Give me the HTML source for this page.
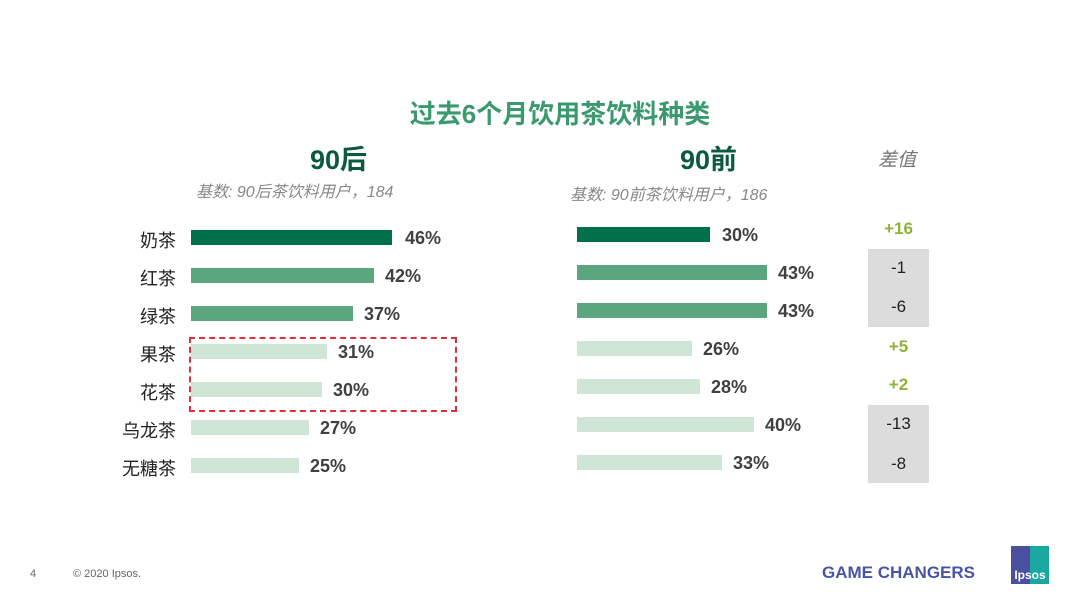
<!DOCTYPE html>
<html><head><meta charset="utf-8"><style>
body{margin:0;width:1080px;height:608px;background:#fff;position:relative;overflow:hidden;font-family:"Liberation Sans","Noto Sans CJK SC",sans-serif}
.a{position:absolute;white-space:nowrap}
.bar{position:absolute;height:15px}
.d{background:#00704a}.m{background:#5aa67e}.l{background:#cfe6d6}
.lab{position:absolute;width:80px;text-align:right;font-size:18px;color:#222;line-height:20px}
.v{position:absolute;font-size:18px;font-weight:bold;color:#404040;line-height:20px}
.df{position:absolute;width:61px;text-align:center;font-size:17px;line-height:20px;color:#222}
.g{color:#8db33a;font-weight:bold}
</style></head><body>
<div class="a" style="left:20px;width:1080px;top:94px;text-align:center;font-size:26px;font-weight:bold;color:#3a9a6e">过去6个月饮用茶饮料种类</div>
<div class="a" style="left:310px;top:138px;font-size:27px;font-weight:bold;color:#0b5a3c">90后</div>
<div class="a" style="left:680px;top:138px;font-size:27px;font-weight:bold;color:#0b5a3c">90前</div>
<div class="a" style="left:878px;top:145px;font-size:19px;font-style:italic;color:#777">差值</div>
<div class="a" style="left:196px;top:178px;font-size:16px;font-style:italic;color:#888">基数: 90后茶饮料用户，184</div>
<div class="a" style="left:570px;top:181px;font-size:16px;font-style:italic;color:#888">基数: 90前茶饮料用户，186</div>

<div class="lab" style="left:96px;top:231px">奶茶</div>
<div class="lab" style="left:96px;top:269px">红茶</div>
<div class="lab" style="left:96px;top:307px">绿茶</div>
<div class="lab" style="left:96px;top:345px">果茶</div>
<div class="lab" style="left:96px;top:383px">花茶</div>
<div class="lab" style="left:96px;top:421px">乌龙茶</div>
<div class="lab" style="left:96px;top:459px">无糖茶</div>

<div class="bar d" style="left:191px;top:230px;width:201px"></div><div class="v" style="left:405px;top:228px">46%</div>
<div class="bar m" style="left:191px;top:268px;width:183px"></div><div class="v" style="left:385px;top:266px">42%</div>
<div class="bar m" style="left:191px;top:306px;width:162px"></div><div class="v" style="left:364px;top:304px">37%</div>
<div class="bar l" style="left:191px;top:344px;width:136px"></div><div class="v" style="left:338px;top:342px">31%</div>
<div class="bar l" style="left:191px;top:382px;width:131px"></div><div class="v" style="left:333px;top:380px">30%</div>
<div class="bar l" style="left:191px;top:420px;width:118px"></div><div class="v" style="left:320px;top:418px">27%</div>
<div class="bar l" style="left:191px;top:458px;width:108px"></div><div class="v" style="left:310px;top:456px">25%</div>

<div class="a" style="left:189px;top:337px;width:264px;height:71px;border:2px dashed #e0303a"></div>

<div class="bar d" style="left:577px;top:227px;width:133px"></div><div class="v" style="left:722px;top:225px">30%</div>
<div class="bar m" style="left:577px;top:265px;width:190px"></div><div class="v" style="left:778px;top:263px">43%</div>
<div class="bar m" style="left:577px;top:303px;width:190px"></div><div class="v" style="left:778px;top:301px">43%</div>
<div class="bar l" style="left:577px;top:341px;width:115px"></div><div class="v" style="left:703px;top:339px">26%</div>
<div class="bar l" style="left:577px;top:379px;width:123px"></div><div class="v" style="left:711px;top:377px">28%</div>
<div class="bar l" style="left:577px;top:417px;width:177px"></div><div class="v" style="left:765px;top:415px">40%</div>
<div class="bar l" style="left:577px;top:455px;width:145px"></div><div class="v" style="left:733px;top:453px">33%</div>

<div class="a" style="left:868px;top:249px;width:61px;height:78px;background:#dcdcdc"></div>
<div class="a" style="left:868px;top:405px;width:61px;height:78px;background:#dcdcdc"></div>
<div class="df g" style="left:868px;top:219px">+16</div>
<div class="df" style="left:868px;top:258px">-1</div>
<div class="df" style="left:868px;top:297px">-6</div>
<div class="df g" style="left:868px;top:337px">+5</div>
<div class="df g" style="left:868px;top:375px">+2</div>
<div class="df" style="left:868px;top:414px">-13</div>
<div class="df" style="left:868px;top:454px">-8</div>

<div class="a" style="left:30px;top:568px;font-size:11px;color:#666">4</div>
<div class="a" style="left:73px;top:568px;font-size:11px;color:#666">© 2020 Ipsos.</div>
<div class="a" style="left:822px;top:563px;font-size:17px;font-weight:bold;color:#4b55a6">GAME CHANGERS</div>
<div class="a" style="left:1011px;top:546px;width:38px;height:38px;background:linear-gradient(90deg,#4a4fa0 50%,#1aa8a0 50%)"></div>
<div class="a" style="left:1011px;top:568px;width:38px;text-align:center;font-size:12px;font-weight:bold;color:#fff">Ipsos</div>
</body></html>
